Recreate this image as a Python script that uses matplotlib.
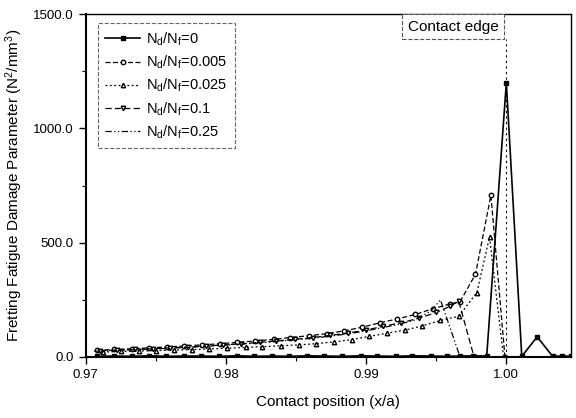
import numpy as np
import matplotlib
matplotlib.use("Agg")
import matplotlib.pyplot as plt
from matplotlib.ticker import MultipleLocator, FormatStrFormatter

plt.rcParams['font.family'] = ['Liberation Sans', 'DejaVu Sans']
plt.rcParams['mathtext.default'] = 'regular'

## Fretting fatigue damage parameter along the contact, for several wear ratios:
# Nd/Nf = 0 (no wear): flat near zero, sharp peak at the contact edge.
x_0 = [0.9708, 0.9720, 0.9733, 0.9745, 0.9757, 0.9770, 0.9782, 0.9795, 0.9808, 0.9820,
       0.9833, 0.9845, 0.9858, 0.9870, 0.9883, 0.9896, 0.9908, 0.9921, 0.9933, 0.9946,
       0.9958, 0.9967, 0.9976, 0.9986, 1.0000, 1.0011, 1.0022, 1.0033, 1.0040, 1.0046]
d_0 = [3, 4, 3, 5, 3, 4, 4, 3, 5, 3,
       4, 3, 5, 4, 3, 5, 4, 3, 5, 4,
       3, 4, 5, 4, 1200, 3, 88, 3, 4, 3]

# Nd/Nf = 0.005
x_005 = [0.9708, 0.9720, 0.9733, 0.9745, 0.9758, 0.9770, 0.9783, 0.9796, 0.9808, 0.9821,
         0.9834, 0.9846, 0.9859, 0.9872, 0.9884, 0.9897, 0.9910, 0.9922, 0.9935, 0.9948,
         0.9960, 0.9967, 0.9978, 0.9989, 0.9999]
d_005 = [30, 33, 36, 40, 44, 48, 53, 58, 64, 70,
         77, 85, 93, 102, 114, 130, 150, 166, 186, 212,
         232, 242, 362, 708, 0]

# Nd/Nf = 0.025
x_025 = [0.9712, 0.9725, 0.9738, 0.9750, 0.9763, 0.9776, 0.9788, 0.9801, 0.9814, 0.9826,
         0.9839, 0.9852, 0.9864, 0.9877, 0.9890, 0.9902, 0.9915, 0.9928, 0.9940, 0.9953,
         0.9966, 0.9979, 0.9988, 0.9998]
d_025 = [22, 24, 26, 28, 30, 32, 35, 38, 42, 45,
         49, 53, 58, 66, 76, 90, 104, 118, 136, 160,
         178, 282, 525, 0]

# Nd/Nf = 0.1
x_01 = [0.9710, 0.9722, 0.9735, 0.9748, 0.9760, 0.9773, 0.9786, 0.9798, 0.9811, 0.9824,
        0.9836, 0.9849, 0.9862, 0.9874, 0.9887, 0.9900, 0.9912, 0.9925, 0.9938, 0.9950,
        0.9960, 0.9966, 0.9977]
d_01 = [27, 30, 33, 36, 40, 44, 48, 53, 58, 64,
        70, 77, 85, 94, 105, 118, 134, 150, 170, 195,
        222, 245, 0]

# Nd/Nf = 0.25
x_025b = [0.9706, 0.9718, 0.9731, 0.9744, 0.9756, 0.9769, 0.9782, 0.9794, 0.9807, 0.9820,
          0.9832, 0.9845, 0.9858, 0.9870, 0.9883, 0.9896, 0.9908, 0.9921, 0.9934, 0.9946,
          0.9953, 0.9967]
d_025b = [25, 28, 31, 34, 37, 41, 45, 50, 55, 60,
          66, 73, 80, 88, 98, 110, 124, 140, 160, 200,
          250, 0]

labels = ["N$_d$/N$_f$=0", "N$_d$/N$_f$=0.005", "N$_d$/N$_f$=0.025",
          "N$_d$/N$_f$=0.1", "N$_d$/N$_f$=0.25"]

fig = plt.figure(figsize=(5.76, 4.18), dpi=100)
ax = fig.add_axes([0.149, 0.146, 0.842, 0.820])

ax.plot(x_0, d_0, color='black', lw=1.2, marker='s', ms=3, mfc='black', label=labels[0])
ax.plot(x_005, d_005, color='black', lw=0.9, ls=(0, (4, 2)), marker='o', ms=3.2,
        mfc='white', label=labels[1])
ax.plot(x_025, d_025, color='black', lw=0.9, ls=(0, (1.5, 2)), marker='^', ms=3.2,
        mfc='white', label=labels[2])
ax.plot(x_01, d_01, color='black', lw=0.9, ls=(0, (5, 2.5)), marker='v', ms=3.2,
        mfc='white', label=labels[3])
ax.plot(x_025b, d_025b, color='black', lw=0.9, ls=(0, (5, 2, 1, 2, 1, 2)),
        label=labels[4])

# Contact edge marker
ax.plot([1.0, 1.0], [0, 1390], color='black', lw=0.8, ls=(0, (2, 3)))
ax.text(0.99621, 1445, "Contact edge", ha='center', va='center', fontsize=11,
        bbox=dict(boxstyle='square,pad=0.35', fc='white', ec='#555555', lw=0.8, ls='--'))

ax.set_xlim(0.97, 1.0046)
ax.set_ylim(0, 1500)
ax.xaxis.set_major_locator(MultipleLocator(0.01))
ax.xaxis.set_minor_locator(MultipleLocator(0.005))
ax.yaxis.set_major_locator(MultipleLocator(500))
ax.yaxis.set_minor_locator(MultipleLocator(250))
ax.xaxis.set_major_formatter(FormatStrFormatter('%.2f'))
ax.yaxis.set_major_formatter(FormatStrFormatter('%.1f'))
ax.tick_params(which='major', direction='out', length=5, labelsize=9.5, width=1)
ax.tick_params(which='minor', direction='out', length=3, width=0.8)
for sp in ax.spines.values():
    sp.set_linewidth(1.0)
ax.spines['left'].set_linewidth(1.5)
ax.spines['bottom'].set_linewidth(1.5)

ax.set_xlabel("Contact position (x/a)", fontsize=11, labelpad=10)
ax.set_ylabel("Fretting Fatigue Damage Parameter (N$^2$/mm$^3$)", fontsize=11, labelpad=6)

leg = ax.legend(loc='upper left', bbox_to_anchor=(0.01, 0.995), fontsize=10.5,
                handlelength=2.4, handletextpad=0.4, labelspacing=0.4,
                borderpad=0.5, fancybox=False, edgecolor='#666666', framealpha=1)
leg.get_frame().set_linestyle('--')
leg.get_frame().set_linewidth(0.8)

fig.savefig("out.png", dpi=100)
